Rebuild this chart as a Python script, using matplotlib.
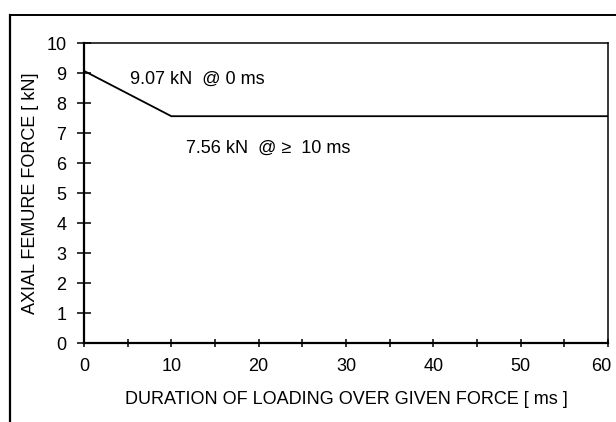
import numpy as np
import matplotlib
matplotlib.use("Agg")
import matplotlib.pyplot as plt
import matplotlib.transforms as mtransforms
from matplotlib.lines import Line2D

# ── data ───────────────────────────────────────────────────────────────────
duration_ms = [0, 10, 60]
femur_force_kn = [9.07, 7.56, 7.56]

x_ticks = [0, 10, 20, 30, 40, 50, 60]
x_minor = [5, 15, 25, 35, 45, 55]
y_ticks = list(range(0, 11))

label_peak = "9.07 kN  @ 0 ms"
label_plateau = "7.56 kN  @ \u2265  10 ms"

plt.rcParams['font.family'] = ['Liberation Sans', 'DejaVu Sans']
FS = 13

fig = plt.figure(figsize=(6.16, 4.22), dpi=100)
ax = fig.add_axes([84 / 616, 1 - 343 / 422, 524 / 616, 300 / 422])

ax.plot(duration_ms, femur_force_kn, color='black', lw=1.3, solid_joinstyle='miter')

ax.set_xlim(0, 60)
ax.set_ylim(0, 10)
ax.set_xticks(x_ticks)
ax.set_xticks(x_minor, minor=True)
ax.set_yticks(y_ticks)

ax.tick_params(axis='y', direction='inout', length=9.5, width=1.1, pad=8, labelsize=FS)
ax.tick_params(axis='x', which='both', direction='inout', length=6, width=1.1, pad=8, labelsize=FS)

# last x label sits just inside the scan edge
last = ax.get_xticklabels()[-1]
last.set_transform(last.get_transform() +
                   mtransforms.ScaledTranslation(-7 / 100, 0, fig.dpi_scale_trans))

for side in ['left', 'bottom']:
    ax.spines[side].set_linewidth(1.6)
for side in ['top', 'right']:
    ax.spines[side].set_linewidth(1.1)

ax.set_xlabel("DURATION OF LOADING OVER GIVEN FORCE [ ms ]", fontsize=FS, labelpad=11)
ax.set_ylabel("AXIAL FEMURE FORCE [ kN]", fontsize=FS, labelpad=5)

ax.text(5.3, 8.8, label_peak, fontsize=FS, va='center', ha='left')
ax.text(11.7, 6.5, label_plateau, fontsize=FS, va='center', ha='left')

# outer frame of the scanned figure (left and top edges only visible)
fig.add_artist(Line2D([10 / 616, 10 / 616], [0, 1 - 15 / 422], color='black', lw=1.6,
                      transform=fig.transFigure))
fig.add_artist(Line2D([10 / 616, 1], [1 - 15 / 422, 1 - 15 / 422], color='black', lw=1.4,
                      transform=fig.transFigure))

fig.savefig("out.png", dpi=100)
